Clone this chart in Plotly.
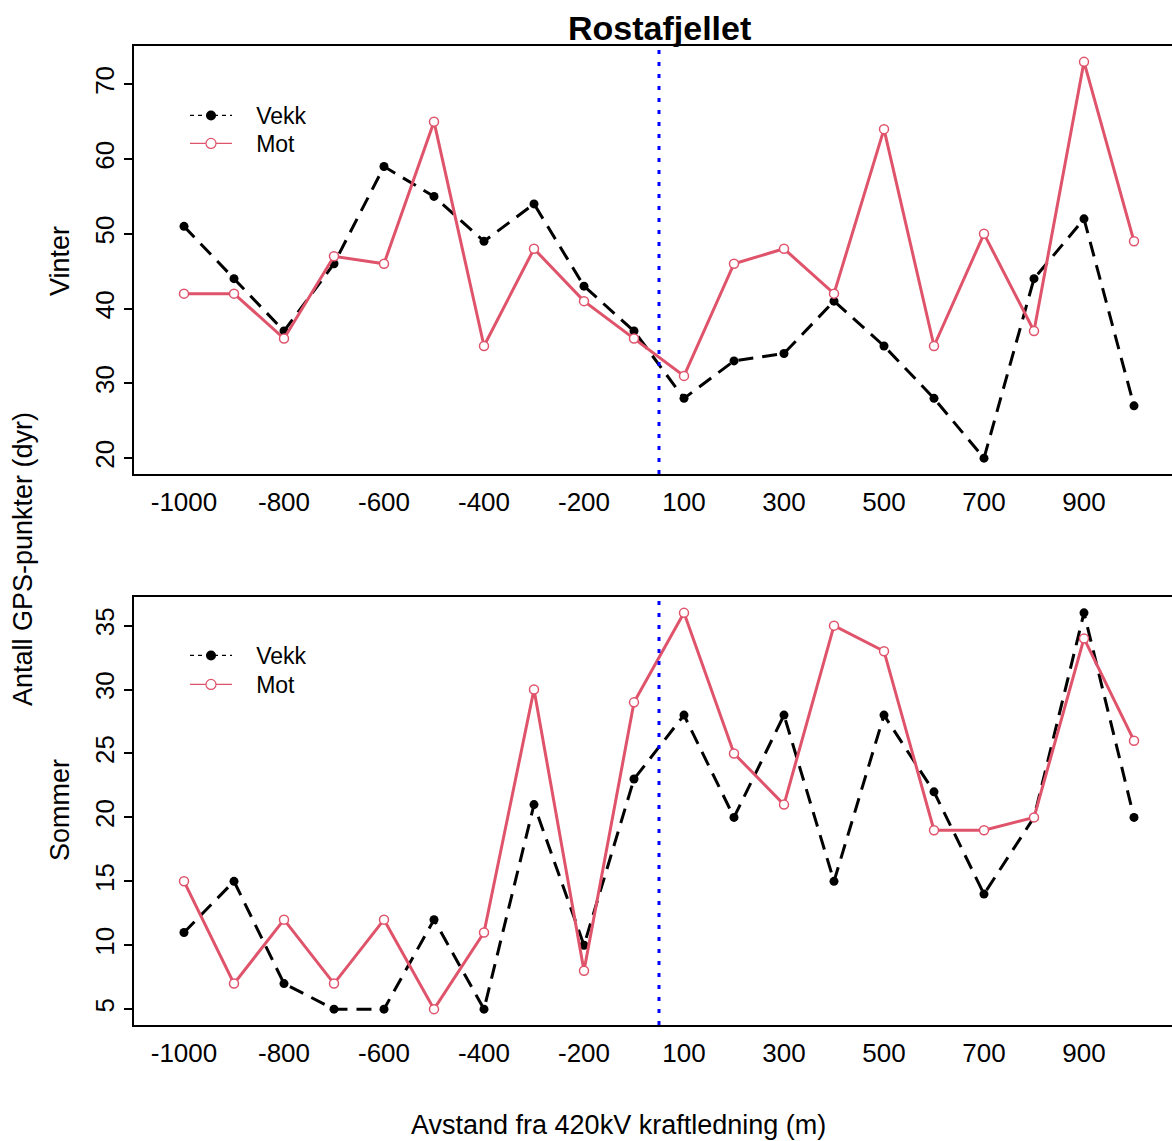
import plotly.graph_objects as go
from plotly.subplots import make_subplots

distances = [-1000, -900, -800, -700, -600, -500, -400, -300, -200, -100,
             100, 200, 300, 400, 500, 600, 700, 800, 900, 1000]
tick_labels = ["-1000", "-800", "-600", "-400", "-200", "100", "300", "500", "700", "900"]

winter_vekk = [51, 44, 37, 46, 59, 55, 49, 54, 43, 37, 28, 33, 34, 41, 35, 28, 20, 44, 52, 27]
winter_mot = [42, 42, 36, 47, 46, 65, 35, 48, 41, 36, 31, 46, 48, 42, 64, 35, 50, 37, 73, 49]
summer_vekk = [11, 15, 7, 5, 5, 12, 5, 21, 10, 23, 28, 20, 28, 15, 28, 22, 14, 20, 36, 20]
summer_mot = [15, 7, 12, 7, 12, 5, 11, 30, 8, 29, 36, 25, 21, 35, 33, 19, 19, 20, 34, 26]

winter_ticks = [20, 30, 40, 50, 60, 70]
summer_ticks = [5, 10, 15, 20, 25, 30, 35]

cats = [str(d) for d in distances]
line_pos = (distances.index(-100) + distances.index(100)) / 2

W, H = 1172, 1141
ML = 134
PW = W - ML
FONT = "Liberation Sans, Arial, sans-serif"
PINK = "#DF536B"
PAD = "\u00a0\u00a0\u00a0"

fig = make_subplots(rows=2, cols=1)

def add_panel(row, vekk, mot, leg_vekk, leg_mot):
    fig.add_trace(go.Scatter(x=cats, y=vekk, mode="lines+markers",
                             line=dict(color="black", width=3, dash="15px,9px"),
                             marker=dict(color="black", size=9),
                             showlegend=False, hoverinfo="skip"), row=row, col=1)
    fig.add_trace(go.Scatter(x=cats, y=mot, mode="lines+markers",
                             line=dict(color=PINK, width=3),
                             marker=dict(color="white", size=9, line=dict(color=PINK, width=1.5)),
                             showlegend=False, hoverinfo="skip"), row=row, col=1)
    fig.add_trace(go.Scatter(x=[None], y=[None], mode="lines+markers", name=PAD + "Vekk",
                             line=dict(color="black", width=1.2, dash="4px,4px"),
                             marker=dict(color="black", size=10),
                             legend=leg_vekk), row=row, col=1)
    fig.add_trace(go.Scatter(x=[None], y=[None], mode="lines+markers", name=PAD + "Mot",
                             line=dict(color=PINK, width=1.2),
                             marker=dict(color="white", size=10, line=dict(color=PINK, width=1.2)),
                             legend=leg_mot), row=row, col=1)
    fig.add_shape(type="line", x0=line_pos, x1=line_pos, y0=0, y1=1,
                  xref=("x" if row == 1 else "x2"),
                  yref=("y domain" if row == 1 else "y2 domain"),
                  line=dict(color="blue", width=3, dash="4px,8px"))

add_panel(1, winter_vekk, winter_mot, "legend", "legend2")
add_panel(2, summer_vekk, summer_mot, "legend3", "legend4")

def ydom(top, bottom):
    return [1 - bottom / H, 1 - top / H]

xcommon = dict(type="category", categoryorder="array", categoryarray=cats,
               range=[-1, 19.76], tickmode="array", tickvals=tick_labels, ticktext=tick_labels,
               showgrid=False, zeroline=False, showline=True, mirror=True,
               linecolor="black", linewidth=1.5, ticks="", ticklabelstandoff=4,
               tickfont=dict(family=FONT, size=26, color="black"), domain=[0, 1])
ycommon = dict(showgrid=False, zeroline=False, showline=True, mirror=False,
               linecolor="black", linewidth=1.5, ticks="outside", ticklen=8, tickwidth=1.5,
               tickcolor="black", tickangle=-90,
               tickfont=dict(family=FONT, size=26, color="black"))

fig.update_xaxes(**xcommon)
fig.update_layout(
    xaxis=dict(anchor="y"), xaxis2=dict(anchor="y2"),
    yaxis=dict(**ycommon, range=[17.88, 75.12], tickvals=winter_ticks, domain=ydom(46, 474)),
    yaxis2=dict(**ycommon, range=[3.76, 37.24], tickvals=summer_ticks, domain=ydom(597, 1025)),
)

legend_common = dict(font=dict(family=FONT, size=23, color="black"), bgcolor="rgba(0,0,0,0)",
                     itemwidth=42, tracegroupgap=0, xanchor="left", yanchor="top")
legend_x = (185 - ML) / PW
fig.update_layout(
    legend=dict(**legend_common, x=legend_x, y=1 - 94 / H),
    legend2=dict(**legend_common, x=legend_x, y=1 - 122 / H),
    legend3=dict(**legend_common, x=legend_x, y=1 - 634 / H),
    legend4=dict(**legend_common, x=legend_x, y=1 - 663 / H),
)

def ann(text, px, py, size=27, angle=0, bold=False):
    fig.add_annotation(text=(f"<b>{text}</b>" if bold else text), xref="paper", yref="paper",
                       x=(px - ML) / PW, y=1 - py / H, xanchor="center", yanchor="middle",
                       showarrow=False, textangle=angle,
                       font=dict(family=FONT, size=size, color="black"))

ann("Rostafjellet", 659, 28, size=34, bold=True)
ann("Vinter", 60, 261, angle=-90)
ann("Sommer", 60, 810, angle=-90)
ann("Antall GPS-punkter (dyr)", 23, 559, angle=-90)
ann("Avstand fra 420kV kraftledning (m)", 618.5, 1125)

fig.update_layout(width=W, height=H, margin=dict(l=ML, r=0, t=0, b=0),
                  plot_bgcolor="white", paper_bgcolor="white")

fig.write_html("out.html")
